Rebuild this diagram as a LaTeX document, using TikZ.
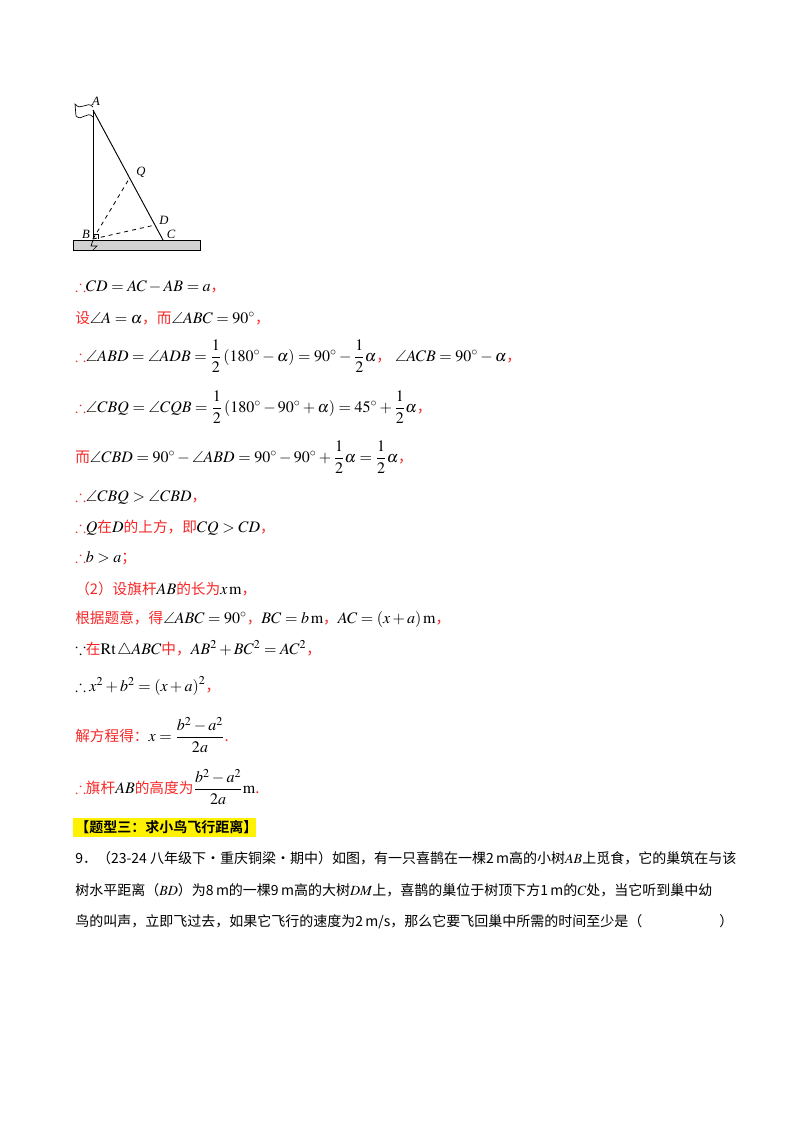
\documentclass[tikz,border=0pt]{standalone}
\usepackage{amsmath,amssymb}
\usepackage{mathptmx}
\usepackage{fontspec}
\usetikzlibrary{calc}
\setmainfont{Liberation Serif}
\newfontfamily\cjk{Noto Sans CJK SC}
\newfontfamily\cjkb{Noto Sans CJK SC}[BoldFont=* Bold]
\definecolor{rd}{RGB}{245,40,40}
\newcommand{\R}[1]{\textcolor{rd}{\fontsize{11pt}{13pt}\selectfont\cjk #1}}
\newcommand{\dg}{{}^{\circ}}
\begin{document}
\begin{tikzpicture}[x=0.75pt,y=-0.75pt,
  ln/.style={anchor=west,inner sep=0pt,font=\fontsize{12pt}{14pt}\selectfont},
  qn/.style={anchor=west,inner sep=0pt,font=\fontsize{10.5pt}{13pt}\selectfont},
  lbl/.style={inner sep=0pt,font=\fontsize{9.5pt}{11pt}\selectfont\itshape}]
\useasboundingbox (0,0) rectangle (800,1132);
% figure
\coordinate (A) at (93,110);
\coordinate (B) at (93,239);
\coordinate (C) at (163,240);
\coordinate (Q) at ($(A)!0.523!(C)$);
\coordinate (D) at ($(A)!0.885!(C)$);
\fill[gray!35] (73,240) rectangle (200,250);
\draw[line width=0.6pt] (73,240) rectangle (200,250);
\draw[line width=0.7pt] (A) -- (B);
\draw[line width=0.7pt] (A) -- (C);
\draw[dashed,line width=0.6pt] (B) -- (Q);
\draw[dashed,line width=0.6pt] (B) -- (D);
\draw[line width=0.5pt] (93,234) -- (98,234) -- (98,239);
\draw[line width=0.5pt] (93,107) .. controls (87,100) and (81,112) .. (75,104) -- (76,116) .. controls (82,122) and (87,110) .. (93,117);
\draw[line width=0.5pt] (93,240) -- (91,246) -- (97,246) -- (93,250);
\node[lbl] (lA) at (96,101) {A};
\node[lbl] (lQ) at (141,172) {Q};
\node[lbl] (lD) at (164,220) {D};
\node[lbl] (lC) at (171,234) {C};
\node[lbl] (lB) at (86,234) {B};
% text
\node[ln] (t1) at (75,287) {\textcolor{rd}{$\therefore$}$CD=AC-AB=a$\R{，}};
\node[ln] (t2) at (75,318) {\R{设}$\angle A=\alpha$\R{，而}$\angle ABC=90\dg$\R{，}};
\node[ln] (t3) at (75,356) {\textcolor{rd}{$\therefore$}$\angle ABD=\angle ADB=\dfrac12\left(180\dg-\alpha\right)=90\dg-\dfrac12\alpha$\R{，}$\ \angle ACB=90\dg-\alpha$\R{，}};
\node[ln] (t4) at (75,407) {\textcolor{rd}{$\therefore$}$\angle CBQ=\angle CQB=\dfrac12\left(180\dg-90\dg+\alpha\right)=45\dg+\dfrac12\alpha$\R{，}};
\node[ln] (t5) at (75,457) {\R{而}$\angle CBD=90\dg-\angle ABD=90\dg-90\dg+\dfrac12\alpha=\dfrac12\alpha$\R{，}};
\node[ln] (t6) at (75,497) {\textcolor{rd}{$\therefore$}$\angle CBQ>\angle CBD$\R{，}};
\node[ln] (t7) at (75,528) {\textcolor{rd}{$\therefore$}$Q$\R{在}$D$\R{的上方，即}$CQ>CD$\R{，}};
\node[ln] (t8) at (75,558) {\textcolor{rd}{$\therefore$}$b>a$\R{；}};
\node[ln] (t9) at (75,589) {\R{（2）设旗杆}$AB$\R{的长为}$x\,\mathrm{m}$\R{，}};
\node[ln] (t10) at (75,619) {\R{根据题意，得}$\angle ABC=90\dg$\R{，}$BC=b\,\mathrm{m}$\R{，}$AC=\left(x+a\right)\mathrm{m}$\R{，}};
\node[ln] (t11) at (75,649) {$\because$\R{在}$\mathrm{Rt}\,\triangle ABC$\R{中，}$AB^2+BC^2=AC^2$\R{，}};
\node[ln] (t12) at (75,686) {$\therefore x^2+b^2=\left(x+a\right)^2$\R{，}};
\node[ln] (t13) at (75,735) {\R{解方程得：}$x=\dfrac{b^2-a^2}{2a}$\R{.}};
\node[ln] (t14) at (75,787) {\textcolor{rd}{$\therefore$}\R{旗杆}$AB$\R{的高度为}$\dfrac{b^2-a^2}{2a}\mathrm{m}$\R{.}};
\fill[yellow] (73,818) rectangle (256,837);
\node[qn] (t15) at (75,827.5) {\cjkb\bfseries 【题型三：求小鸟飞行距离】};
\node[qn] (t16) at (75,858) {\cjk 9．（23-24 八年级下·重庆铜梁·期中）如图，有一只喜鹊在一棵2\,m高的小树$AB$上觅食，它的巢筑在与该};
\node[qn] (t17) at (75,890) {\cjk 树水平距离（$BD$）为8\,m的一棵9\,m高的大树$DM$上，喜鹊的巢位于树顶下方1\,m的$C$处，当它听到巢中幼};
\node[qn] (t18) at (75,922) {\cjk 鸟的叫声，立即飞过去，如果它飞行的速度为2\,m/s，那么它要飞回巢中所需的时间至少是（\hspace{5.5em}）};
\end{tikzpicture}
\end{document}
